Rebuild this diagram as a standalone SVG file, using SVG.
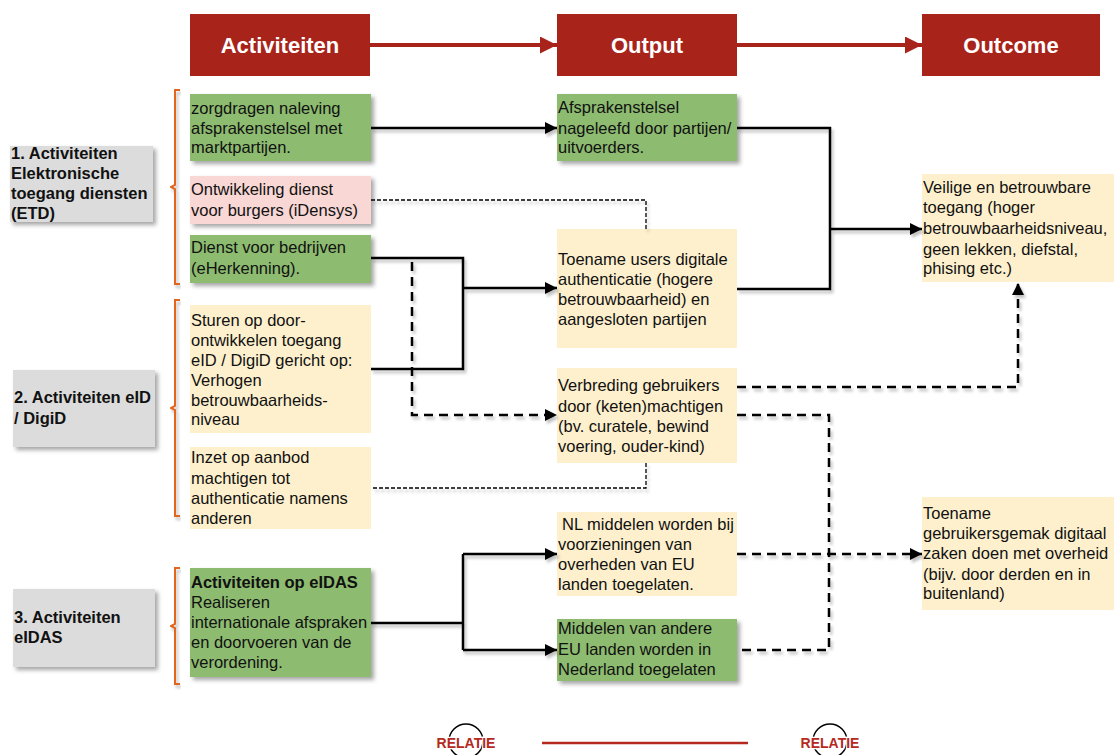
<svg xmlns="http://www.w3.org/2000/svg" width="1114" height="755" viewBox="0 0 1114 755">
<defs>
<filter id="sh" x="-10%" y="-10%" width="130%" height="140%"><feDropShadow dx="3" dy="3" stdDeviation="2" flood-color="#000" flood-opacity="0.35"/></filter>
<filter id="shl" x="-5%" y="-5%" width="110%" height="110%"><feDropShadow dx="2" dy="3" stdDeviation="1.5" flood-color="#000" flood-opacity="0.25"/></filter>
<marker id="ah" viewBox="0 0 10 10" refX="10" refY="5" markerWidth="12" markerHeight="12" markerUnits="userSpaceOnUse" orient="auto"><path d="M0,0 L10,5 L0,10 z" fill="#000"/></marker>
<marker id="ahr" viewBox="0 0 10 10" refX="10" refY="5" markerWidth="17" markerHeight="17" markerUnits="userSpaceOnUse" orient="auto"><path d="M0,0 L10,5 L0,10 z" fill="#A8231A"/></marker>
</defs>
<style>
.hdr{fill:#A8231A}
.ht{font-family:"Liberation Sans",Arial,sans-serif;font-weight:bold;font-size:22px;fill:#fff;text-anchor:middle}
.t{font-family:"Liberation Sans",Arial,sans-serif;font-size:16.5px;fill:#111}
.b{font-weight:bold}
.g{fill:#8DBB6F;filter:url(#sh)}
.y{fill:#FEF0CD}
.p{fill:#F8D7D5;filter:url(#sh)}
.gr{fill:#DCDCDC;filter:url(#sh)}
.br{fill:none;stroke:#E2661E;stroke-width:2}
.c{fill:none;stroke:#000;stroke-width:2.5}
.d{stroke-dasharray:9 6}
.td{stroke-width:1.3;stroke-dasharray:4 2}
.rl{font-family:"Liberation Sans",Arial,sans-serif;font-weight:bold;font-size:14px;fill:#B5291F;text-anchor:middle;stroke:#fff;stroke-width:2.5;paint-order:stroke}
</style>
<rect width="1114" height="755" fill="#fff"/>

<g id="headers">
<rect class="hdr" x="190" y="14" width="180" height="62"/>
<text class="ht" x="280" y="53">Activiteiten</text>
<rect class="hdr" x="557" y="14" width="180" height="62"/>
<text class="ht" x="647" y="53">Output</text>
<rect class="hdr" x="922" y="14" width="178" height="62"/>
<text class="ht" x="1011" y="53">Outcome</text>
</g>
<g id="header-arrows" fill="none" stroke="#A8231A" stroke-width="4">
<line x1="370" y1="45" x2="557" y2="45" marker-end="url(#ahr)"/>
<line x1="737" y1="45" x2="922" y2="45" marker-end="url(#ahr)"/>
</g>

<g id="label1"><rect class="gr" x="10" y="146" width="143" height="76"/>
<text class="t b"><tspan x="11" y="159">1. Activiteiten</tspan><tspan x="11" y="179">Elektronische</tspan><tspan x="11" y="199">toegang diensten</tspan><tspan x="11" y="219">(ETD)</tspan></text></g>
<g id="label2"><rect class="gr" x="13" y="370" width="142" height="77"/>
<text class="t b"><tspan x="14" y="403">2. Activiteiten eID</tspan><tspan x="14" y="424">/ DigiD</tspan></text></g>
<g id="label3"><rect class="gr" x="13" y="589" width="142" height="78"/>
<text class="t b"><tspan x="14" y="623">3. Activiteiten</tspan><tspan x="14" y="643">eIDAS</tspan></text></g>

<g id="brackets" filter="url(#shl)">
<path class="br" d="M180,90 H175 V185 L171,187 L175,189 V284 H180"/>
<path class="br" d="M180,300 H175 V406 L171,408 L175,410 V516 H180"/>
<path class="br" d="M180,568 H175 V624 L171,626 L175,628 V684 H180"/>
</g>

<g id="a1"><rect class="g" x="190" y="94" width="181" height="67"/>
<text class="t"><tspan x="191" y="114">zorgdragen naleving</tspan><tspan x="191" y="134">afsprakenstelsel met</tspan><tspan x="191" y="153">marktpartijen.</tspan></text></g>
<g id="a2"><rect class="p" x="190" y="176" width="181" height="48"/>
<text class="t"><tspan x="191" y="195">Ontwikkeling dienst</tspan><tspan x="191" y="216">voor burgers (iDensys)</tspan></text></g>
<g id="a3"><rect class="g" x="190" y="235" width="181" height="48"/>
<text class="t"><tspan x="191" y="253">Dienst voor bedrijven</tspan><tspan x="191" y="274">(eHerkenning).</tspan></text></g>
<g id="a4"><rect class="y" x="190" y="305" width="181" height="128"/>
<text class="t"><tspan x="191" y="326">Sturen op door-</tspan><tspan x="191" y="346">ontwikkelen toegang</tspan><tspan x="191" y="366">eID / DigiD gericht op:</tspan><tspan x="191" y="386">Verhogen</tspan><tspan x="191" y="406">betrouwbaarheids-</tspan><tspan x="191" y="425">niveau</tspan></text></g>
<g id="a5"><rect class="y" x="190" y="447" width="181" height="82"/>
<text class="t"><tspan x="191" y="463">Inzet op aanbod</tspan><tspan x="191" y="484">machtigen tot</tspan><tspan x="191" y="504">authenticatie namens</tspan><tspan x="191" y="524">anderen</tspan></text></g>
<g id="a6"><rect class="g" x="190" y="568" width="181" height="109"/>
<text class="t"><tspan x="191" y="588" font-weight="bold">Activiteiten op eIDAS</tspan><tspan x="191" y="608">Realiseren</tspan><tspan x="191" y="628">internationale afspraken</tspan><tspan x="191" y="648">en doorvoeren van de</tspan><tspan x="191" y="668">verordening.</tspan></text></g>

<g id="o1"><rect class="g" x="557" y="94" width="180" height="67"/>
<text class="t"><tspan x="558" y="113">Afsprakenstelsel</tspan><tspan x="558" y="134">nageleefd door partijen/</tspan><tspan x="558" y="153">uitvoerders.</tspan></text></g>
<g id="o2"><rect class="y" x="557" y="229" width="180" height="119"/>
<text class="t"><tspan x="558" y="265">Toename users digitale</tspan><tspan x="558" y="285">authenticatie (hogere</tspan><tspan x="558" y="305">betrouwbaarheid) en</tspan><tspan x="558" y="325">aangesloten partijen</tspan></text></g>
<g id="o3"><rect class="y" x="557" y="368" width="180" height="95"/>
<text class="t"><tspan x="558" y="391">Verbreding gebruikers</tspan><tspan x="558" y="412">door (keten)machtigen</tspan><tspan x="558" y="432">(bv. curatele, bewind</tspan><tspan x="558" y="452">voering, ouder-kind)</tspan></text></g>
<g id="o4"><rect class="y" x="557" y="512" width="180" height="84"/>
<text class="t"><tspan x="562" y="530">NL middelen worden bij</tspan><tspan x="558" y="550">voorzieningen van</tspan><tspan x="558" y="570">overheden van EU</tspan><tspan x="558" y="590">landen toegelaten.</tspan></text></g>
<g id="o5"><rect class="g" x="557" y="619" width="180" height="62"/>
<text class="t"><tspan x="558" y="634">Middelen van andere</tspan><tspan x="558" y="655">EU landen worden in</tspan><tspan x="558" y="675">Nederland toegelaten</tspan></text></g>

<g id="r1"><rect class="y" x="922" y="174" width="192" height="108"/>
<text class="t"><tspan x="923" y="193">Veilige en betrouwbare</tspan><tspan x="923" y="213">toegang (hoger</tspan><tspan x="923" y="234">betrouwbaarheidsniveau,</tspan><tspan x="923" y="255">geen lekken, diefstal,</tspan><tspan x="923" y="274">phising etc.)</tspan></text></g>
<g id="r2"><rect class="y" x="922" y="497" width="192" height="113"/>
<text class="t"><tspan x="923" y="519">Toename</tspan><tspan x="923" y="539">gebruikersgemak digitaal</tspan><tspan x="923" y="559">zaken doen met overheid</tspan><tspan x="923" y="580">(bijv. door derden en in</tspan><tspan x="923" y="599">buitenland)</tspan></text></g>

<g id="connectors" filter="url(#shl)">
<path class="c" d="M371,128 H557" marker-end="url(#ah)"/>
<path class="c" d="M737,128 H830 V289 H737"/>
<path class="c" d="M830,229 H922" marker-end="url(#ah)"/>
<path class="c td" d="M371,200 H646 V229"/>
<path class="c" d="M371,258 H463 V369 H371"/>
<path class="c" d="M463,288 H557" marker-end="url(#ah)"/>
<path class="c d" d="M412,262 V415 H557" marker-end="url(#ah)"/>
<path class="c d" d="M737,387 H1018 V283" marker-end="url(#ah)"/>
<path class="c d" d="M737,415 H829 V650 H737"/>
<path class="c d" d="M737,554 H922" marker-end="url(#ah)"/>
<path class="c td" d="M646,463 V488 H371"/>
<path class="c" d="M371,623 H463"/>
<path class="c" d="M463,554 V650"/>
<path class="c" d="M463,554 H557" marker-end="url(#ah)"/>
<path class="c" d="M463,650 H557" marker-end="url(#ah)"/>
</g>

<g id="legend">
<circle cx="466" cy="741" r="17" fill="none" stroke="#000" stroke-width="1.5"/>
<text class="rl" x="466" y="748">RELATIE</text>
<line x1="542" y1="743" x2="748" y2="743" stroke="#B5291F" stroke-width="2.5"/>
<circle cx="830" cy="741" r="17" fill="none" stroke="#000" stroke-width="1.5"/>
<text class="rl" x="830" y="748">RELATIE</text>
</g>
</svg>
